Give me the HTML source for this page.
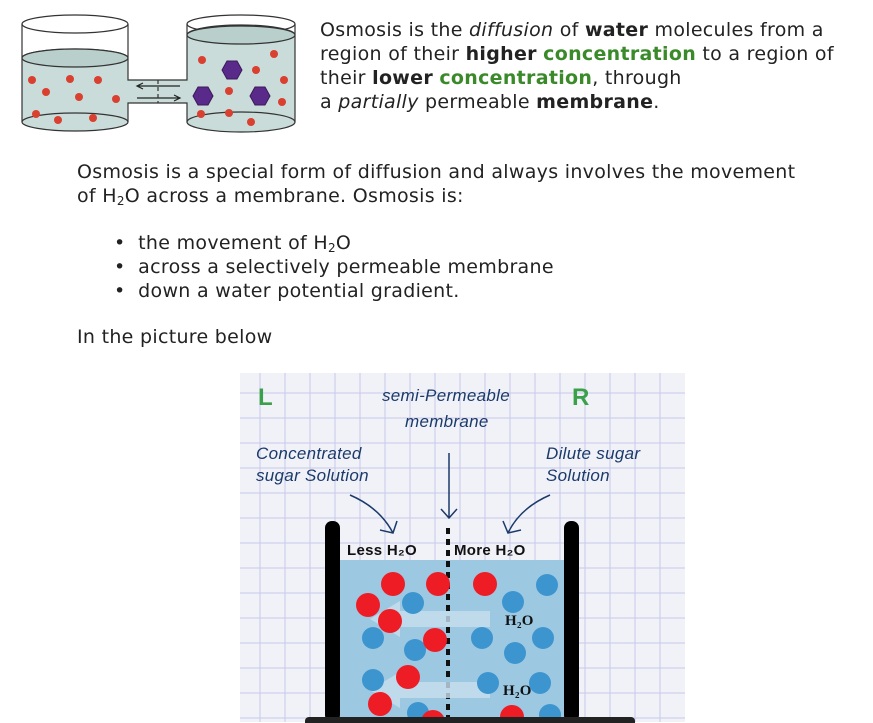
<!DOCTYPE html>
<html><head><meta charset="utf-8"><style>
body{margin:0;width:873px;height:722px;overflow:hidden;background:#fff;font-family:"DejaVu Sans","Liberation Sans",sans-serif;font-size:19px;letter-spacing:0.3px;color:#222}
.t{position:absolute;line-height:24px;white-space:nowrap}
.g{color:#3a8a2a;font-weight:bold}
sub{font-size:12px;vertical-align:-3px;line-height:0}
</style></head><body>
<svg style="position:absolute;left:0;top:0" width="310" height="150">
 <g stroke="#333" stroke-width="1.2" fill="#c9dcd9">
  <path d="M22 58 L22 122 A53 9 0 0 0 128 122 L128 103 L187 103 L187 122 A54 10 0 0 0 295 122 L295 35 A54 10 0 0 0 187 35 L187 80 L128 80 L128 58 A53 9 0 0 0 22 58 Z"/>
 </g>
 <g fill="none" stroke="#333" stroke-width="1.2">
  <ellipse cx="75" cy="24" rx="53" ry="9"/><line x1="22" y1="24" x2="22" y2="58"/><line x1="128" y1="24" x2="128" y2="58"/>
  <ellipse cx="75" cy="58" rx="53" ry="9" fill="#b9cfcc"/>
  <ellipse cx="241" cy="24" rx="54" ry="9"/><line x1="187" y1="24" x2="187" y2="35"/><line x1="295" y1="24" x2="295" y2="35"/>
  <ellipse cx="241" cy="35" rx="54" ry="9" fill="#b9cfcc"/>
  <path d="M22 122 A53 9 0 0 1 128 122 M187 122 A54 10 0 0 1 295 122"/>
  <path d="M180 86 L137 86 M143 83 L137 86 L143 89 M137 98 L180 98 M174 95 L180 98 L174 101" stroke="#222"/>
  <line x1="158" y1="80" x2="158" y2="103" stroke-dasharray="4 3"/>
 </g>
 <g fill="#d94030">
  <circle cx="32" cy="80" r="4"/><circle cx="70" cy="79" r="4"/><circle cx="98" cy="80" r="4"/><circle cx="46" cy="92" r="4"/><circle cx="79" cy="97" r="4"/><circle cx="116" cy="99" r="4"/><circle cx="36" cy="114" r="4"/><circle cx="58" cy="120" r="4"/><circle cx="93" cy="118" r="4"/>
  <circle cx="202" cy="60" r="4"/><circle cx="256" cy="70" r="4"/><circle cx="274" cy="54" r="4"/><circle cx="284" cy="80" r="4"/><circle cx="229" cy="91" r="4"/><circle cx="282" cy="102" r="4"/><circle cx="201" cy="114" r="4"/><circle cx="229" cy="113" r="4"/><circle cx="251" cy="122" r="4"/>
 </g>
 <g fill="#5a2a8a" stroke="#3a1a5a">
  <polygon points="222,70 227,61 237,61 242,70 237,79 227,79"/>
  <polygon points="193,96 198,87 208,87 213,96 208,105 198,105"/>
  <polygon points="250,96 255,87 265,87 270,96 265,105 255,105"/>
 </g>
</svg>
<div class="t" style="left:320px;top:18px">Osmosis is the <i>diffusion</i> of <b>water</b> molecules from a<br>region of their <b>higher</b> <span class="g">concentration</span> to a region of<br>their <b>lower</b> <span class="g">concentration</span>, through<br>a <i>partially</i> permeable <b>membrane</b>.</div>
<div class="t" style="left:77px;top:160px">Osmosis is a special form of diffusion and always involves the movement<br>of H<sub>2</sub>O across a membrane. Osmosis is:</div>
<div class="t" style="left:114px;top:231px">•&nbsp;&nbsp;the movement of H<sub>2</sub>O<br>•&nbsp;&nbsp;across a selectively permeable membrane<br>•&nbsp;&nbsp;down a water potential gradient.</div>
<div class="t" style="left:77px;top:325px">In the picture below</div>
<svg style="position:absolute;left:240px;top:373px" width="445" height="349">
 <rect width="445" height="349" fill="#f1f1f8"/>
 <g stroke="#c9c9ea" stroke-width="1">
  <path d="M0 20H445M0 45H445M0 70H445M0 95H445M0 120H445M0 145H445M0 170H445M0 195H445M0 220H445M0 245H445M0 270H445M0 295H445M0 320H445M0 345H445"/>
  <path d="M20 0V349M45 0V349M70 0V349M95 0V349M120 0V349M145 0V349M170 0V349M195 0V349M220 0V349M245 0V349M270 0V349M295 0V349M320 0V349M345 0V349M370 0V349M395 0V349M420 0V349"/>
 </g>
 <text x="18" y="32" font-family="Liberation Sans" font-weight="bold" font-size="24" fill="#3aa04a">L</text>
 <text x="332" y="32" font-family="Liberation Sans" font-weight="bold" font-size="24" fill="#3aa04a">R</text>
 <g font-family="Liberation Sans" font-size="17" fill="#1a3a6a" font-style="italic">
  <text x="142" y="28">semi-Permeable</text><text x="165" y="54">membrane</text>
  <text x="16" y="86">Concentrated</text><text x="16" y="108">sugar Solution</text>
  <text x="306" y="86">Dilute sugar</text><text x="306" y="108">Solution</text>
 </g>
 <g fill="none" stroke="#1a3a6a" stroke-width="1.5">
  <path d="M209 80V145M201 136L209 145L217 136"/>
  <path d="M110 122Q140 135 153 160M140 157L153 160L157 148"/>
  <path d="M310 122Q280 135 268 160M263 148L268 160L281 157"/>
 </g>
 <rect x="100" y="187" width="227" height="162" fill="#9cc8e2"/>
 <rect x="85" y="148" width="15" height="201" rx="7" fill="#000"/>
 <rect x="324" y="148" width="15" height="201" rx="7" fill="#000"/>
 <text x="107" y="182" font-family="Liberation Sans" font-weight="bold" font-size="15" fill="#111">Less H₂O</text>
 <text x="214" y="182" font-family="Liberation Sans" font-weight="bold" font-size="15" fill="#111">More H₂O</text>
 <line x1="208" y1="155" x2="208" y2="349" stroke="#111" stroke-width="4" stroke-dasharray="6 5"/>
 <g fill="#c8e0ee" opacity="0.8">
  <polygon points="130,246 160,228 160,238 250,238 250,254 160,254 160,264"/>
  <polygon points="130,317 160,299 160,309 250,309 250,325 160,325 160,335"/>
 </g>
 <g font-family="Liberation Serif" font-weight="bold" font-size="15" fill="#111"><text x="265" y="252">H₂O</text><text x="263" y="322">H₂O</text></g>
 <g fill="#3d95cf">
  <circle cx="173" cy="230" r="11"/><circle cx="133" cy="265" r="11"/><circle cx="175" cy="277" r="11"/><circle cx="133" cy="307" r="11"/><circle cx="178" cy="340" r="11"/>
  <circle cx="307" cy="212" r="11"/><circle cx="273" cy="229" r="11"/><circle cx="242" cy="265" r="11"/><circle cx="303" cy="265" r="11"/><circle cx="275" cy="280" r="11"/><circle cx="248" cy="310" r="11"/><circle cx="300" cy="310" r="11"/><circle cx="310" cy="342" r="11"/>
 </g>
 <g fill="#ee1c24">
  <circle cx="153" cy="211" r="12"/><circle cx="198" cy="211" r="12"/><circle cx="245" cy="211" r="12"/><circle cx="128" cy="232" r="12"/><circle cx="150" cy="248" r="12"/><circle cx="195" cy="267" r="12"/><circle cx="168" cy="304" r="12"/><circle cx="140" cy="331" r="12"/><circle cx="272" cy="344" r="12"/><circle cx="193" cy="349" r="12"/>
 </g>
</svg>
<div style="position:absolute;left:305px;top:717px;width:330px;height:6px;background:#222;border-radius:4px 4px 0 0"></div>
</body></html>
